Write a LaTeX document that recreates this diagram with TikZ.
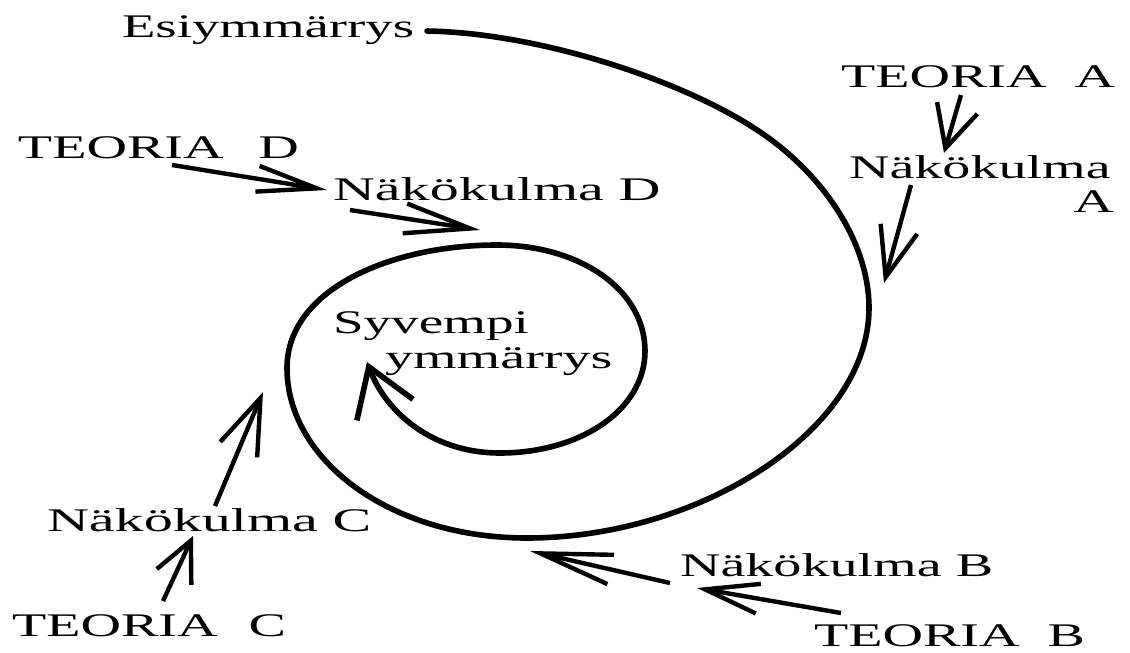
\documentclass[tikz,border=0pt]{standalone}
\usepackage{fontspec}
\setmainfont{Liberation Serif}
\usepackage{graphicx}
\usetikzlibrary{arrows.meta}
\newcommand{\lbl}[2][1.7]{\scalebox{#1}[1]{#2}}
\begin{document}
\begin{tikzpicture}[x=0.5pt,y=-0.5pt,
  lab/.style={inner sep=0pt, outer sep=0pt, anchor=base west, font=\fontsize{16.5}{20}\selectfont},
  spiral/.style={line width=2.8pt, line cap=round},
  arr/.style={line width=2.2pt},
]
\useasboundingbox (0,0) rectangle (1130,653);
% labels
\node[lab] (esi) at (122,38) {\lbl[1.66]{Esiymmärrys}};
\node[lab] (tD) at (18,158) {\lbl{TEORIA\hspace{0.62em}D}};
\node[lab] (nD) at (333,200) {\lbl[1.76]{Näkökulma D}};
\node[lab] (tA) at (841,87) {\lbl{TEORIA\hspace{0.5em}A}};
\node[lab] (nA) at (849,178) {\lbl{Näkökulma}};
\node[lab, anchor=base east] (nAb) at (1114,212) {\lbl{A}};
\node[lab] (syv) at (333,333) {\lbl[1.67]{Syvempi}};
\node[lab] (ymm) at (385,368) {\lbl{ymmärrys}};
\node[lab] (nC) at (47,531) {\lbl[1.76]{Näkökulma C}};
\node[lab] (tC) at (12,636) {\lbl{TEORIA\hspace{0.55em}C}};
\node[lab] (nB) at (680,576) {\lbl{Näkökulma B}};
\node[lab] (tB) at (814,646) {\lbl{TEORIA\hspace{0.5em}B}};
% arrow end points
\coordinate (s0) at (427,31);
\coordinate (s1) at (367,362);
\coordinate (d1s) at (172,165); \coordinate (d1e) at (327,190);
\coordinate (d2s) at (350,210); \coordinate (d2e) at (480,230);
\coordinate (a1s) at (961,95);  \coordinate (a1e) at (944,153);
\coordinate (a2s) at (911,185); \coordinate (a2e) at (884,283);
\coordinate (c1s) at (163,601); \coordinate (c1e) at (193,536);
\coordinate (c2s) at (215,506); \coordinate (c2e) at (263,392);
\coordinate (b1s) at (670,583); \coordinate (b1e) at (530,551);
\coordinate (b2s) at (841,613); \coordinate (b2e) at (697,588);
% spiral
\draw[spiral, -{Straight Barb[length=23pt,width=30pt]}] (s0)
  .. controls (540,33) and (680,80) .. (754,128)
  .. controls (820,170) and (869,240) .. (869,308)
  .. controls (869,430) and (700,538) .. (527,538)
  .. controls (390,538) and (287,460) .. (287,368)
  .. controls (287,290) and (390,245) .. (497,245)
  .. controls (580,245) and (645,290) .. (645,351)
  .. controls (645,410) and (580,453) .. (500,453)
  .. controls (430,453) and (385,410) .. (s1);
% arrows
\draw[arr, -{Straight Barb[length=30pt,width=13pt]}] (d1s) -- (d1e);
\draw[arr, -{Straight Barb[length=33pt,width=15pt]}] (d2s) -- (d2e);
\draw[arr, -{Straight Barb[length=21pt,width=21pt]}] (a1s) -- (a1e);
\draw[arr, -{Straight Barb[length=25pt,width=19pt]}] (a2s) -- (a2e);
\draw[arr, -{Straight Barb[length=20pt,width=19pt]}] (c1s) -- (c1e);
\draw[arr, -{Straight Barb[length=28pt,width=20pt]}] (c2s) -- (c2e);
\draw[arr, -{Straight Barb[length=36pt,width=15pt]}] (b1s) -- (b1e);
\draw[arr, -{Straight Barb[length=27pt,width=15pt]}] (b2s) -- (b2e);
\end{tikzpicture}
\end{document}
